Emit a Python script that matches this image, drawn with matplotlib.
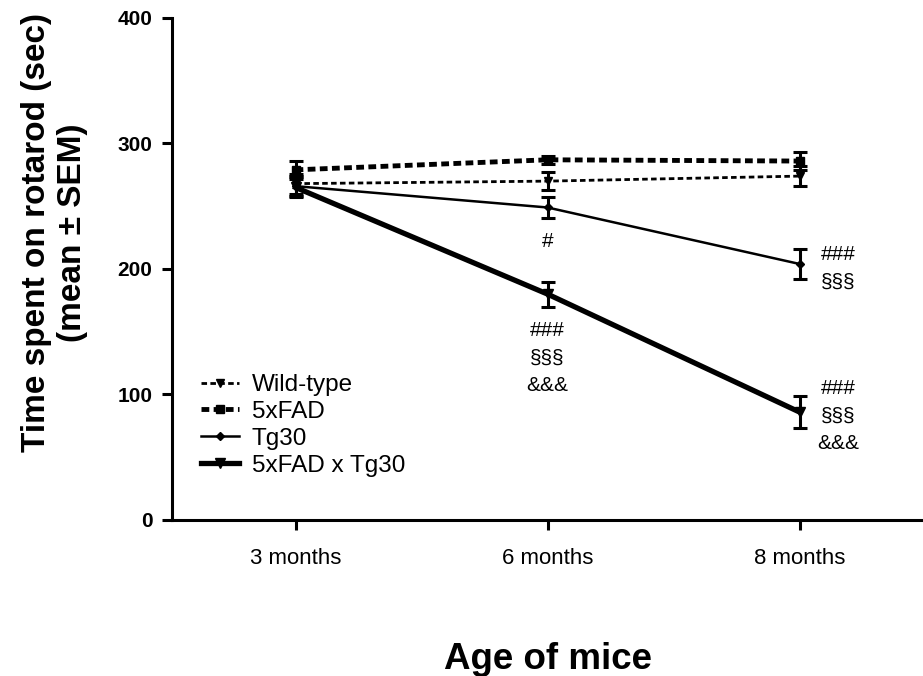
import matplotlib
matplotlib.use("Agg")
import matplotlib.pyplot as plt
import numpy as np

plt.rcParams['font.family'] = ['Liberation Sans', 'DejaVu Sans']

ages = ["3 months", "6 months", "8 months"]
groups = ["Wild-type", "5xFAD", "Tg30", "5xFAD x Tg30"]

wt_mean = [268, 270, 274]
wt_sem = [8, 7, 8]
fad_mean = [279, 287, 286]
fad_sem = [7, 3, 7]
tg_mean = [266, 249, 204]
tg_sem = [8, 8, 12]
dbl_mean = [265, 180, 86]
dbl_sem = [8, 10, 13]

# significance marks: (group index, age index, text lines)
marks = [
    (2, 1, ["#"]),
    (3, 1, ["###", "§§§", "&&&"]),
    (2, 2, ["###", "§§§"]),
    (3, 2, ["###", "§§§", "&&&"]),
]


def main():
    fig = plt.figure(figsize=(9.23, 6.76), dpi=100)
    ax = fig.add_axes([0.1864, 0.2308, 0.8136, 0.7426])

    x = np.arange(len(ages))
    means = [wt_mean, fad_mean, tg_mean, dbl_mean]
    sems = [wt_sem, fad_sem, tg_sem, dbl_sem]
    styles = [
        dict(ls=(0, (2.0, 1.2)), lw=2.0, marker='v', ms=6),
        dict(ls=(0, (1.6, 0.9)), lw=3.5, marker='s', ms=6),
        dict(ls='-', lw=1.8, marker='D', ms=4),
        dict(ls='-', lw=3.8, marker='v', ms=7),
    ]

    handles = []
    for name, m, s, st in zip(groups, means, sems, styles):
        cont = ax.errorbar(x, m, yerr=s, color='black', linestyle=st['ls'], lw=st['lw'],
                           marker=st['marker'], ms=st['ms'], elinewidth=2.2,
                           capsize=5, capthick=2.2, label=name)
        handles.append(cont[0])

    for gi, ai, lines in marks:
        m = means[gi][ai]
        se = sems[gi][ai]
        if ai == 1:
            for k, t in enumerate(lines):
                ax.annotate(t, (x[ai], m - se), xytext=(0, -17 - 20 * k),
                            textcoords='offset points', ha='center', va='center',
                            fontsize=15)
        else:
            n = len(lines)
            for k, t in enumerate(lines):
                ax.annotate(t, (x[ai], m), xytext=(28, 10 * (n - 1) - 20 * k - 3),
                            textcoords='offset points', ha='center', va='center',
                            fontsize=15)

    ax.set_xlim(-0.49, 2.49)
    ax.set_ylim(0, 400)
    ax.set_xticks(x)
    ax.set_xticklabels(ages, fontsize=16)
    ax.set_yticks([0, 100, 200, 300, 400])
    ax.set_yticklabels(["0", "100", "200", "300", "400"], fontsize=15, fontweight='bold')

    for side in ['top', 'right']:
        ax.spines[side].set_visible(False)
    for side in ['left', 'bottom']:
        ax.spines[side].set_linewidth(2.2)
    ax.tick_params(axis='both', width=2.2, length=7, direction='out')
    ax.tick_params(axis='x', pad=13)
    ax.tick_params(axis='y', pad=7)

    ax.set_xlabel("Age of mice", fontsize=26.5, fontweight='bold', labelpad=53)
    ax.set_ylabel("Time spent on rotarod (sec)\n(mean ± SEM)", fontsize=24,
                  fontweight='bold', linespacing=1.2)
    ax.yaxis.set_label_coords(-0.112, 0.572)

    ax.legend(handles=handles, labels=groups, loc='upper left',
              bbox_to_anchor=(0.025, 0.31), frameon=False, borderaxespad=0,
              fontsize=17.5, handlelength=1.6, handletextpad=0.5, labelspacing=0.2)

    fig.savefig("out.png", dpi=100)


if __name__ == '__main__':
    main()
